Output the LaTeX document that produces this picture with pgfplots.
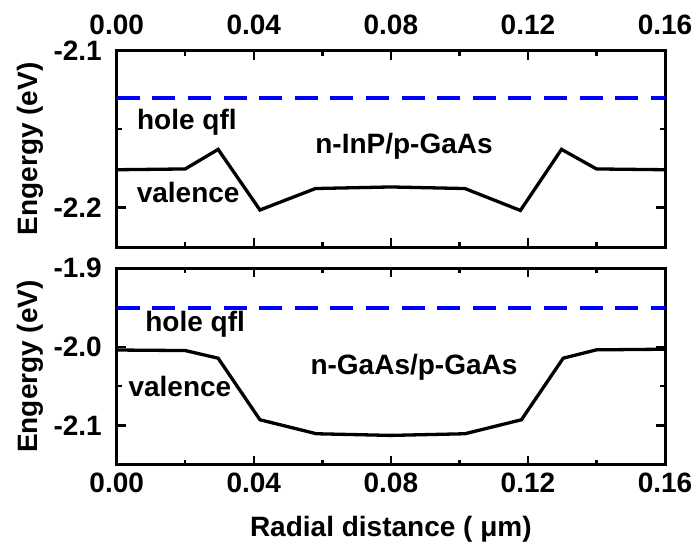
\documentclass[border=0pt]{standalone}
\usepackage{fontspec}
\setmainfont{Liberation Sans}
\usepackage{pgfplots}
\pgfplotsset{compat=1.18}
\newcommand{\bigbf}{\bfseries\fontsize{28}{32}\selectfont}
\definecolor{qflblue}{RGB}{0,0,255}
\tikzset{lbl/.style={font=\bigbf, inner sep=0pt, anchor=base west}}
\pgfplotsset{
  panel/.style={
    scale only axis, width=548.3pt, height=196.4pt,
    xmin=0, xmax=0.16,
    xtick={0,0.04,0.08,0.12,0.16},
    xticklabels={0.00,0.04,0.08,0.12,0.16},
    minor xtick={0.02,0.06,0.10,0.14},
    xtick pos=both, ytick pos=both,
    tick align=inside,
    major tick length=9pt, minor tick length=5pt,
    major tick style={black, line width=2.5pt},
    minor tick style={black, line width=2.5pt},
    axis line style={line width=3pt},
    tick label style={font=\bigbf, inner sep=1pt},
    yticklabel style={xshift=-13.7pt},
    label style={font=\bigbf},
    ylabel={Engergy (eV)},
    ylabel style={at={(axis description cs:-0.158,0.5)}, anchor=center},
    clip=true,
  },
  valence/.style={black, line width=3.3pt, line join=miter, mark=none},
  qfl/.style={qflblue, line width=4pt, dash pattern=on 23pt off 12.6pt, mark=none},
}
\begin{document}
\begin{tikzpicture}
\useasboundingbox (0,0) rectangle (700pt,-549pt);
% top panel
\begin{axis}[panel,
  at={(116.7pt,-50.7pt)}, anchor=north west,
  ymin=-2.2254, ymax=-2.1,
  ytick={-2.2,-2.1}, yticklabels={-2.2,-2.1},
  minor ytick={-2.15},
  xticklabel pos=upper,
  xticklabel style={yshift=14.7pt},
]
\addplot[qfl] coordinates {(0,-2.130) (0.16,-2.130)};
\addplot[valence] coordinates {
  (0,-2.176) (0.02,-2.1755) (0.0296,-2.163) (0.0418,-2.2017) (0.058,-2.188)
  (0.08,-2.187) (0.1016,-2.188) (0.1178,-2.202) (0.1298,-2.163) (0.14,-2.1755) (0.16,-2.176)};
\node[lbl] at (axis cs:0.0059,-2.1506) {hole qfl};
\node[lbl] at (axis cs:0.0058,-2.197) {valence};
\node[lbl] at (axis cs:0.0579,-2.1655) {n-InP/p-GaAs};
\end{axis}
% bottom panel
\begin{axis}[panel,
  at={(116.7pt,-268.3pt)}, anchor=north west,
  ymin=-2.15, ymax=-1.9,
  ytick={-2.1,-2.0,-1.9}, yticklabels={-2.1,-2.0,-1.9},
  minor ytick={-2.05,-1.95},
  xticklabel pos=lower,
  xticklabel style={yshift=-7.3pt},
  xlabel={Radial distance ( μm)},
  xlabel style={at={(axis description cs:0.5,-0.3666)}, anchor=base},
]
\addplot[qfl] coordinates {(0,-1.95) (0.16,-1.95)};
\addplot[valence] coordinates {
  (0,-2.004) (0.02,-2.0047) (0.0296,-2.0144) (0.0418,-2.0928) (0.0583,-2.1106)
  (0.08,-2.1127) (0.1016,-2.1106) (0.1181,-2.0928) (0.1303,-2.0144) (0.14,-2.0038) (0.16,-2.003)};
\node[lbl] at (axis cs:0.0083,-1.9806) {hole qfl};
\node[lbl] at (axis cs:0.0034,-2.0631) {valence};
\node[lbl] at (axis cs:0.0565,-2.0356) {n-GaAs/p-GaAs};
\end{axis}
\end{tikzpicture}
\end{document}
